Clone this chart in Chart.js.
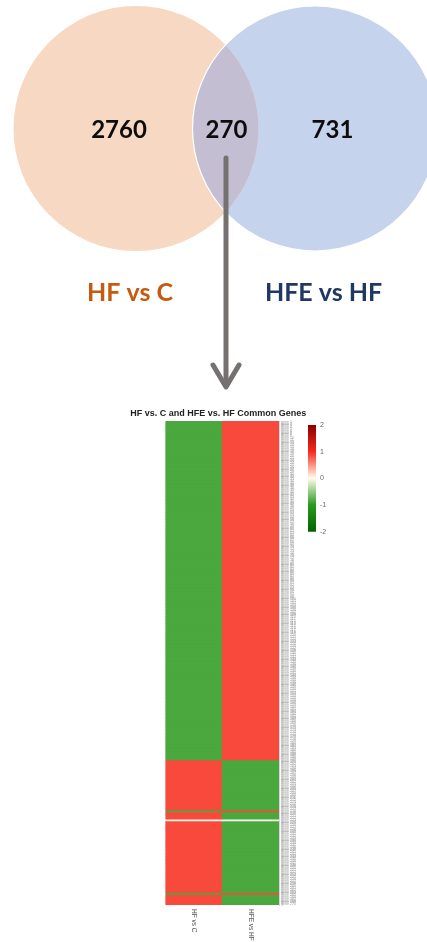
<!DOCTYPE html>
<html>
<head>
<meta charset="utf-8">
<script src="https://cdn.jsdelivr.net/npm/chart.js@4/dist/chart.umd.min.js"></script>
<style>
  html, body { margin: 0; padding: 0; background: #fff; width: 427px; height: 942px; overflow: hidden; }
  .box { position: absolute; }
  #vennBox  { left: 0; top: 0; width: 427px; height: 400px; }
  #heatBox  { left: 130px; top: 405px; width: 184px; height: 537px; }
  #scaleBox { left: 295px; top: 415px; width: 37px; height: 125px; }
</style>
</head>
<body>
<div class="box" id="vennBox"><canvas id="venn"></canvas></div>
<div class="box" id="heatBox"><canvas id="heat"></canvas></div>
<div class="box" id="scaleBox"><canvas id="scale"></canvas></div>
<script>
// ---- Data ----
const setNames = ['HF vs C', 'HFE vs HF'];
const uniqueCounts = [2760, 731];
const sharedCount = 270;

const heatTitle = 'HF vs. C and HFE vs. HF Common Genes';
const heatColumns = ['HF vs C', 'HFE vs HF'];
// Common genes in row order, as runs: how many genes, scaled change in each comparison
const runLengths = [189, 28, 1, 4, 1, 40, 1, 6];
const runHFvsC   = [-0.85, 0.85, -0.85, 0.85, 0, 0.85, -0.85, 0.85];
const runHFEvsHF = [0.85, -0.85, 0.85, -0.85, 0, -0.85, 0.85, -0.85];
const colorbarTicks = [2, 1, 0, -1, -2];

// ---- Styles / layout ----
const setColors = ['#f7d8c2', '#c5d4ec'];
const overlapColor = '#c4bed2';
const setLabelColors = ['#c55a11', '#203864'];
const vennLayout = { centers: [{ x: 136, y: 128.5 }, { x: 315, y: 128.5 }], radius: 122.5 };
const arrowLayout = { top: 158, tip: 387, arm: 13, armRise: 22 };
const colorStops = [
  { v: -2, c: [0, 100, 0] },
  { v: -1, c: [42, 153, 32] },
  { v: 0,  c: [255, 252, 235] },
  { v: 1,  c: [247, 42, 29] },
  { v: 2,  c: [139, 0, 0] }
];

function valueColor(v) {
  v = Math.max(-2, Math.min(2, v));
  for (let i = 0; i < colorStops.length - 1; i++) {
    const a = colorStops[i], b = colorStops[i + 1];
    if (v >= a.v && v <= b.v) {
      const t = (v - a.v) / (b.v - a.v);
      const c = a.c.map((x, k) => Math.round(x + (b.c[k] - x) * t));
      return `rgb(${c[0]},${c[1]},${c[2]})`;
    }
  }
  return 'rgb(255,252,235)';
}

// ---- Venn diagram ----
const vennPlugin = {
  id: 'vennDecor',
  afterDatasetsDraw(chart) {
    const ctx = chart.ctx;
    const a = chart.getDatasetMeta(0).data[0];
    const b = chart.getDatasetMeta(1).data[0];
    const ra = a.options.radius, rb = b.options.radius;
    // shared region
    ctx.save();
    ctx.beginPath(); ctx.arc(a.x, a.y, ra, 0, Math.PI * 2); ctx.clip();
    ctx.beginPath(); ctx.arc(b.x, b.y, rb, 0, Math.PI * 2);
    ctx.fillStyle = overlapColor; ctx.fill();
    ctx.strokeStyle = '#ffffff'; ctx.lineWidth = 1.2; ctx.stroke();
    ctx.restore();

    const lensX = ((a.x + ra) + (b.x - rb)) / 2;
    ctx.save();
    ctx.fillStyle = '#0d0d0d';
    ctx.font = 'bold 24px Lato';
    ctx.textAlign = 'center';
    ctx.textBaseline = 'alphabetic';
    ctx.fillText(String(uniqueCounts[0]), a.x - 17, a.y + 9);
    ctx.fillText(String(sharedCount), lensX + 1, a.y + 9);
    ctx.fillText(String(uniqueCounts[1]), b.x + 17.5, b.y + 9);

    ctx.font = 'bold 25px Lato';
    ctx.fillStyle = setLabelColors[0];
    ctx.fillText(setNames[0], a.x - 6, a.y + 172.5);
    ctx.fillStyle = setLabelColors[1];
    ctx.fillText(setNames[1], b.x + 8.5, b.y + 172.5);

    // arrow from the shared region down to the heatmap
    const ys = chart.scales.y;
    const top = ys.getPixelForValue(arrowLayout.top);
    const tip = ys.getPixelForValue(arrowLayout.tip);
    const ax = lensX + 0.5;
    ctx.strokeStyle = '#767171';
    ctx.lineWidth = 5;
    ctx.lineCap = 'round';
    ctx.lineJoin = 'round';
    ctx.beginPath();
    ctx.moveTo(ax, top); ctx.lineTo(ax, tip - 2);
    ctx.stroke();
    ctx.beginPath();
    ctx.moveTo(ax - arrowLayout.arm, tip - arrowLayout.armRise);
    ctx.lineTo(ax, tip);
    ctx.lineTo(ax + arrowLayout.arm, tip - arrowLayout.armRise);
    ctx.stroke();
    ctx.restore();
  }
};

new Chart(document.getElementById('venn'), {
  type: 'bubble',
  data: {
    datasets: setNames.map((name, i) => ({
      label: name,
      data: [{ x: vennLayout.centers[i].x, y: vennLayout.centers[i].y, r: vennLayout.radius }],
      backgroundColor: setColors[i],
      borderColor: '#ffffff',
      borderWidth: i === 1 ? 1.2 : 0,
      clip: false
    }))
  },
  options: {
    responsive: true, maintainAspectRatio: false, animation: false, events: [],
    layout: { padding: 0, autoPadding: false },
    plugins: { legend: { display: false }, tooltip: { enabled: false } },
    scales: {
      x: { type: 'linear', min: 0, max: 427, display: false },
      y: { type: 'linear', min: 0, max: 400, reverse: true, display: false }
    }
  },
  plugins: [vennPlugin]
});

// ---- Heatmap ----
const hfcRows = [], hfeRows = [];
runLengths.forEach((n, i) => {
  for (let k = 0; k < n; k++) { hfcRows.push(runHFvsC[i]); hfeRows.push(runHFEvsHF[i]); }
});
const geneLabels = hfcRows.map((_, i) => 'gene ' + (i + 1));

const heatDatasets = hfcRows.map((v, i) => ({
  label: geneLabels[i],
  data: [1, 1],
  backgroundColor: [valueColor(v), valueColor(hfeRows[i])],
  stack: 'genes'
}));

const heatText = {
  id: 'heatText',
  afterDraw(chart) {
    const ctx = chart.ctx, area = chart.chartArea, xs = chart.scales.x;
    ctx.save();
    ctx.fillStyle = '#222';
    ctx.font = 'bold 9px "Liberation Sans", Arial';
    ctx.textAlign = 'center';
    ctx.textBaseline = 'alphabetic';
    ctx.fillText(heatTitle, (area.left + area.right) / 2 - 4, area.top - 5);

    ctx.fillStyle = '#555';
    ctx.font = '6.5px "Liberation Sans", Arial';
    ctx.textAlign = 'left';
    ctx.textBaseline = 'middle';
    heatColumns.forEach((name, i) => {
      ctx.save();
      ctx.translate(xs.getPixelForValue(i), area.bottom + 4);
      ctx.rotate(Math.PI / 2);
      ctx.fillText(name, 0, 0);
      ctx.restore();
    });
    ctx.restore();
  }
};

new Chart(document.getElementById('heat'), {
  type: 'bar',
  data: { labels: heatColumns, datasets: heatDatasets },
  options: {
    responsive: true, maintainAspectRatio: false, animation: false, events: [],
    layout: { padding: { left: 35.5, right: 13, top: 16, bottom: 37 } },
    plugins: { legend: { display: false }, tooltip: { enabled: false } },
    datasets: { bar: { barPercentage: 1, categoryPercentage: 1, borderWidth: 0, inflateAmount: 0.5 } },
    scales: {
      x: { stacked: true, display: false },
      y: {
        stacked: true, reverse: true, min: 0, max: hfcRows.length, position: 'right',
        grid: { display: false, drawTicks: false },
        border: { display: true, color: '#d6d6d6' },
        afterBuildTicks(s) { s.ticks = geneLabels.map((_, i) => ({ value: i + 0.5 })); },
        afterFit(s) { s.width = 22; },
        ticks: { autoSkip: false, font: { size: 3.6 }, color: '#9a9a9a', padding: 2,
                 callback: (v, i) => geneLabels[i] }
      }
    }
  },
  plugins: [heatText]
});

// ---- Colour key ----
new Chart(document.getElementById('scale'), {
  type: 'bar',
  data: {
    labels: ['key'],
    datasets: [{
      data: [[colorbarTicks[colorbarTicks.length - 1], colorbarTicks[0]]],
      borderWidth: 0,
      backgroundColor(c) {
        const chart = c.chart;
        if (!chart.chartArea) return '#ccc';
        const ys = chart.scales.y;
        const g = chart.ctx.createLinearGradient(0, ys.getPixelForValue(-2), 0, ys.getPixelForValue(2));
        colorStops.forEach(s => g.addColorStop((s.v + 2) / 4, valueColor(s.v)));
        return g;
      }
    }]
  },
  options: {
    responsive: true, maintainAspectRatio: false, animation: false, events: [],
    layout: { padding: { left: 13, right: 0, top: 10, bottom: 8 } },
    plugins: { legend: { display: false }, tooltip: { enabled: false } },
    datasets: { bar: { barPercentage: 1, categoryPercentage: 1 } },
    scales: {
      x: { display: false },
      y: {
        min: -2, max: 2, position: 'right',
        grid: { display: false, drawTicks: false },
        border: { display: false },
        afterBuildTicks(s) { s.ticks = colorbarTicks.map(v => ({ value: v })); },
        afterFit(s) { s.width = 16; },
        ticks: { font: { size: 7, family: '"Liberation Sans", Arial' }, color: '#666', padding: 4 }
      }
    }
  }
});
</script>
</body>
</html>
